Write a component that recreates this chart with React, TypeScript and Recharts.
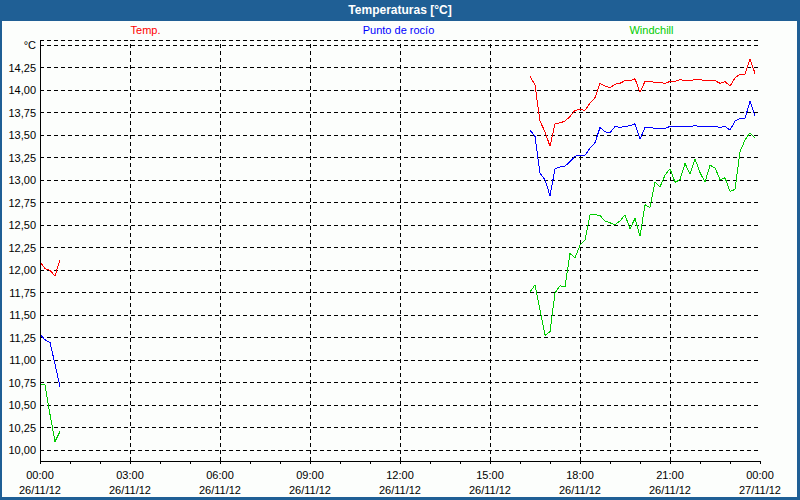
import React from 'react';
import { LineChart, Line, XAxis, YAxis, CartesianGrid, ReferenceLine } from 'recharts';

const FONT = '"Liberation Sans", Arial, sans-serif';

// sampling every 10 min; two recorded stretches of the day
const STEP_MIN = 10;
const startA = 0; // 00:00
const startB = 980; // 16:20

const tempA = [12.1, 12.02, 12.0, 11.94, 12.12];
const dewA = [11.29, 11.23, 11.2, 10.96, 10.71];
const windA = [10.74, 10.73, 10.4, 10.1, 10.21];

const tempB = [
  14.16, 14.06, 13.66, 13.54, 13.38, 13.63, 13.64, 13.66, 13.71, 13.78,
  13.79, 13.78, 13.86, 13.92, 14.08, 14.05, 14.03, 14.07, 14.08, 14.11,
  14.11, 14.13, 13.98, 14.1, 14.1, 14.09, 14.09, 14.08, 14.1, 14.1,
  14.12, 14.11, 14.11, 14.12, 14.12, 14.11, 14.11, 14.11, 14.08, 14.1,
  14.05, 14.14, 14.18, 14.18, 14.35, 14.19,
];
const dewB = [
  13.56, 13.49, 13.08, 13.01, 12.83, 13.13, 13.15, 13.16, 13.21, 13.27,
  13.28, 13.28, 13.36, 13.42, 13.59, 13.54, 13.53, 13.6, 13.59, 13.6,
  13.61, 13.63, 13.46, 13.59, 13.59, 13.58, 13.58, 13.58, 13.6, 13.6,
  13.6, 13.6, 13.6, 13.61, 13.6, 13.6, 13.6, 13.6, 13.59, 13.6,
  13.56, 13.66, 13.69, 13.69, 13.88, 13.72,
];
const windB = [
  11.76, 11.84, 11.56, 11.28, 11.32, 11.75, 11.83, 11.82, 12.19, 12.14,
  12.28, 12.34, 12.62, 12.62, 12.61, 12.55, 12.53, 12.51, 12.55, 12.62,
  12.46, 12.58, 12.38, 12.73, 12.7, 12.98, 12.93, 13.06, 13.13, 12.98,
  13.01, 13.19, 13.07, 13.24, 13.09, 12.98, 13.17, 13.14, 13.01, 13.03,
  12.88, 12.9, 13.32, 13.45, 13.53, 13.47,
];

const hourTicks = [
  0, 60, 120, 180, 240, 300, 360, 420, 480, 540, 600, 660, 720,
  780, 840, 900, 960, 1020, 1080, 1140, 1200, 1260, 1320, 1380, 1440,
];
const labelTicks = [0, 180, 360, 540, 720, 900, 1080, 1260, 1440];
const timeLabels = ['00:00', '03:00', '06:00', '09:00', '12:00', '15:00', '18:00', '21:00', '00:00'];
const dateLabels = [
  '26/11/12', '26/11/12', '26/11/12', '26/11/12', '26/11/12',
  '26/11/12', '26/11/12', '26/11/12', '27/11/12',
];
const yTicks = [
  10, 10.25, 10.5, 10.75, 11, 11.25, 11.5, 11.75, 12, 12.25,
  12.5, 12.75, 13, 13.25, 13.5, 13.75, 14, 14.25, 14.5,
];

const SERIES = [
  { key: 'temp', name: 'Temp.', color: '#ff0000' },
  { key: 'dew', name: 'Punto de rocío', color: '#0000ff' },
  { key: 'wind', name: 'Windchill', color: '#00cc00' },
];

type Row = { t: number; temp: number | null; dew: number | null; wind: number | null };

const rows: Row[] = [];
tempA.forEach((v, i) => rows.push({ t: startA + i * STEP_MIN, temp: v, dew: dewA[i], wind: windA[i] }));
rows.push({ t: 500, temp: null, dew: null, wind: null }); // hueco sin datos
tempB.forEach((v, i) => rows.push({ t: startB + i * STEP_MIN, temp: v, dew: dewB[i], wind: windB[i] }));

const XTick = (props: any) => {
  const { x, y, payload } = props;
  const i = labelTicks.indexOf(payload.value);
  if (i < 0) return <g />;
  return (
    <text x={x} y={y} textAnchor="middle" fontSize={11} fontFamily={FONT} fill="#000">
      <tspan x={x} dy={11}>{timeLabels[i]}</tspan>
      <tspan x={x} dy={15}>{dateLabels[i]}</tspan>
    </text>
  );
};

const YTick = (props: any) => {
  const { x, y, payload } = props;
  const v = payload.value as number;
  const label = v === 14.5 ? '°C' : v.toFixed(2).replace('.', ',');
  return (
    <text x={x} y={y} dy={4} textAnchor="end" fontSize={11} fontFamily={FONT} fill="#000">
      {label}
    </text>
  );
};

export default function App() {
  return (
    <div style={{ position: 'absolute', left: 0, top: 0, width: 800, height: 500, background: '#1f5f95' }}>
      <div
        style={{
          position: 'absolute', left: 0, top: 0, width: 800, height: 21, lineHeight: '21px',
          textAlign: 'center', color: '#fff', fontWeight: 'bold', fontSize: 12, fontFamily: FONT,
        }}
      >
        Temperaturas [°C]
      </div>
      <div style={{ position: 'absolute', left: 2, top: 21, right: 3, bottom: 3, background: '#fcfefc' }} />
      <div style={{ position: 'absolute', left: 19, top: 24, width: 759, display: 'flex' }}>
        {SERIES.map((s) => (
          <div key={s.key} style={{ flex: 1, textAlign: 'center', color: s.color, fontSize: 11, fontFamily: FONT }}>
            {s.name}
          </div>
        ))}
      </div>
      <div style={{ position: 'absolute', left: 0, top: 0, shapeRendering: 'crispEdges' }}>
        <LineChart width={800} height={500} data={rows} margin={{ top: 40, right: 40, bottom: 0, left: 0 }}>
          <CartesianGrid vertical={false} stroke="#000" strokeDasharray="4 3" />
          {labelTicks.slice(1, -1).map((h) => (
            <ReferenceLine key={h} x={h} stroke="#000" strokeDasharray="4 3" />
          ))}
          <XAxis
            dataKey="t"
            type="number"
            domain={[0, 1440]}
            ticks={hourTicks}
            interval={0}
            height={39}
            tickSize={3}
            tickMargin={4}
            tickLine={{ stroke: '#000' }}
            axisLine={{ stroke: '#000' }}
            tick={<XTick />}
          />
          <XAxis
            xAxisId="top"
            orientation="top"
            type="number"
            domain={[0, 1440]}
            height={0}
            tick={false}
            tickLine={false}
            axisLine={{ stroke: '#000' }}
          />
          <YAxis
            type="number"
            domain={[9.8833, 14.5611]}
            allowDataOverflow
            ticks={yTicks}
            interval={0}
            width={40}
            tickSize={0}
            tickMargin={4}
            tickLine={false}
            axisLine={{ stroke: '#000' }}
            tick={<YTick />}
          />
          <YAxis
            yAxisId="right"
            orientation="right"
            type="number"
            domain={[0, 1]}
            width={0}
            tick={false}
            tickLine={false}
            axisLine={{ stroke: '#000' }}
          />
          {SERIES.map((s) => (
            <Line
              key={s.key}
              type="linear"
              dataKey={s.key}
              name={s.name}
              stroke={s.color}
              strokeWidth={1}
              dot={false}
              activeDot={false}
              isAnimationActive={false}
            />
          ))}
        </LineChart>
      </div>
    </div>
  );
}
